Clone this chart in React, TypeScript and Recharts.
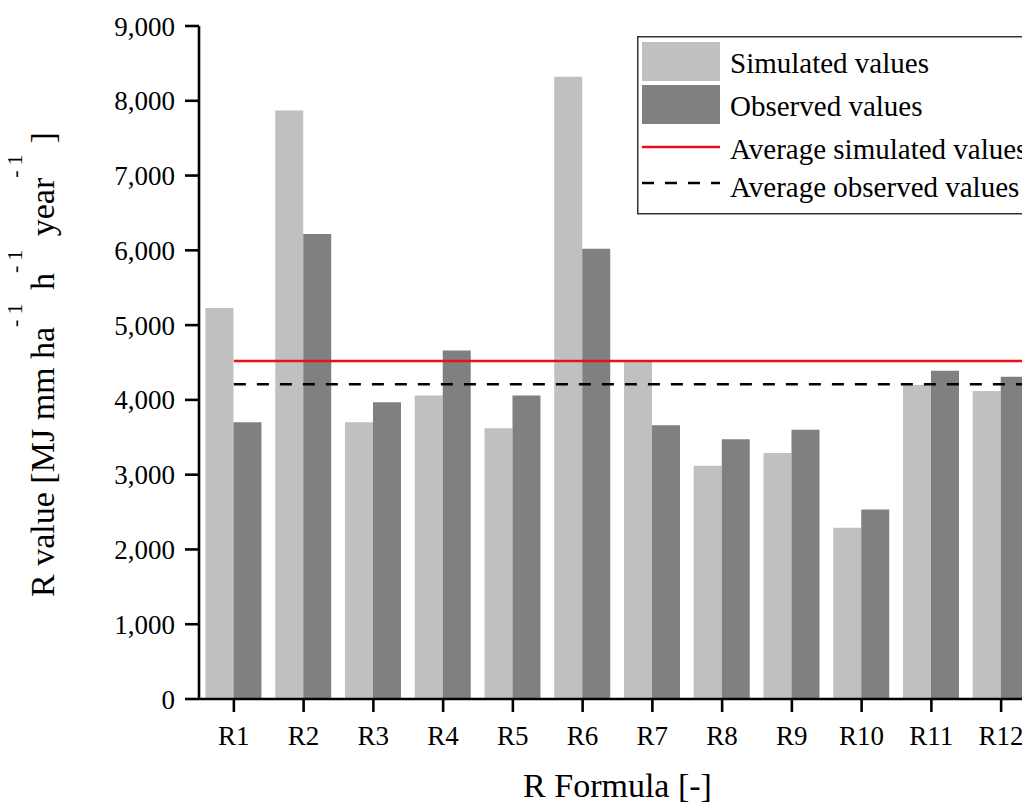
import { BarChart, Bar, XAxis, YAxis, ReferenceLine, Legend } from 'recharts';

const categories = ['R1', 'R2', 'R3', 'R4', 'R5', 'R6', 'R7', 'R8', 'R9', 'R10', 'R11', 'R12'];
const simulatedValues = [5230, 7870, 3700, 4060, 3620, 8320, 4520, 3120, 3290, 2290, 4200, 4120];
const observedValues = [3700, 6220, 3970, 4660, 4060, 6020, 3660, 3475, 3600, 2535, 4390, 4310];
const avgSimulated = 4520;
const avgObserved = 4210;
const yTicks = [0, 1000, 2000, 3000, 4000, 5000, 6000, 7000, 8000, 9000];
const legendLabels = ['Simulated values', 'Observed values', 'Average simulated values', 'Average observed values'];

const data = categories.map((name, i) => ({
  name,
  pos: i + 1,
  simulated: simulatedValues[i],
  observed: observedValues[i],
}));

const FONT = '"Liberation Serif", "Times New Roman", serif';
const LIGHT = '#c0c0c0';
const DARK = '#808080';
const RED = '#e8101c';

// rotated y label with raised superscripts
const YLabel = (props: any) => {
  const { viewBox } = props;
  const cx = viewBox.x + 54;
  const cy = viewBox.y + viewBox.height / 2 + 2;
  const sup = (key: string) => (
    <tspan key={key} fontSize={22} letterSpacing={5} dy={-32}>-1</tspan>
  );
  return (
    <text
      x={cx}
      y={cy}
      transform={`rotate(-90, ${cx}, ${cy})`}
      textAnchor="middle"
      fontFamily={FONT}
      fontSize={34}
      fill="#000"
    >
      <tspan>R value [MJ mm ha</tspan>
      {sup('a')}
      <tspan dy={32}>{' h'}</tspan>
      {sup('b')}
      <tspan dy={32}>{' year'}</tspan>
      {sup('c')}
      <tspan dy={32} dx={6}>]</tspan>
    </text>
  );
};

const LegendBox = () => (
  <svg width={400} height={179} style={{ display: 'block' }}>
    <rect x={0.75} y={0.75} width={398} height={177} fill="#fff" stroke="#333" strokeWidth={1.5} />
    <rect x={5} y={6} width={78} height={39} fill={LIGHT} />
    <rect x={5} y={49} width={78} height={39} fill={DARK} />
    <line x1={5} x2={83} y1={111} y2={111} stroke={RED} strokeWidth={2.6} />
    <line x1={5} x2={83} y1={147} y2={147} stroke="#000" strokeWidth={2.6} strokeDasharray="12 11" />
    {legendLabels.map((t, i) => (
      <text key={t} x={93} y={[37, 80, 123, 161][i]} fontFamily={FONT} fontSize={29} fill="#000">
        {t}
      </text>
    ))}
  </svg>
);

export default function App() {
  return (
    <div style={{ position: 'fixed', left: 0, top: 0, width: 1022, height: 805, overflow: 'hidden', background: '#fff' }}>
      <BarChart
        width={1040}
        height={805}
        data={data}
        margin={{ top: 26, right: 4, bottom: 0, left: 0 }}
        barCategoryGap="9.3%"
        barGap={0}
      >
        <XAxis
          dataKey="name"
          interval={0}
          height={106}
          tickSize={13}
          tickMargin={14}
          axisLine={{ stroke: '#000', strokeWidth: 2.6 }}
          tickLine={{ stroke: '#000', strokeWidth: 2.6 }}
          tick={{ fill: '#000', fontSize: 27, fontFamily: FONT }}
          label={{ value: 'R Formula [-]', position: 'insideBottom', offset: 8, fontSize: 34, fill: '#000', fontFamily: FONT }}
        />
        <XAxis xAxisId="pos" dataKey="pos" type="number" domain={[0.5, 12.5]} allowDataOverflow hide />
        <YAxis
          width={199}
          domain={[0, 9000]}
          ticks={yTicks}
          interval={0}
          tickFormatter={(v: number) => v.toLocaleString('en-US')}
          tickSize={14}
          tickMargin={10}
          axisLine={{ stroke: '#000', strokeWidth: 2.6 }}
          tickLine={{ stroke: '#000', strokeWidth: 2.6 }}
          tick={{ fill: '#000', fontSize: 27, fontFamily: FONT }}
          label={{ content: YLabel }}
        />
        <Legend
          layout="horizontal"
          verticalAlign="middle"
          align="center"
          content={LegendBox}
          wrapperStyle={{ top: 36, left: 637, width: 400, height: 179 }}
        />
        <Bar dataKey="simulated" name="Simulated values" fill={LIGHT} isAnimationActive={false} />
        <Bar dataKey="observed" name="Observed values" fill={DARK} isAnimationActive={false} />
        <ReferenceLine
          xAxisId="pos"
          segment={[{ x: 1, y: avgSimulated }, { x: 12.5, y: avgSimulated }]}
          stroke={RED}
          strokeWidth={2.6}
          ifOverflow="visible"
        />
        <ReferenceLine
          xAxisId="pos"
          segment={[{ x: 1, y: avgObserved }, { x: 12.5, y: avgObserved }]}
          stroke="#000"
          strokeWidth={2.6}
          strokeDasharray="12 11"
          ifOverflow="visible"
        />
      </BarChart>
    </div>
  );
}
